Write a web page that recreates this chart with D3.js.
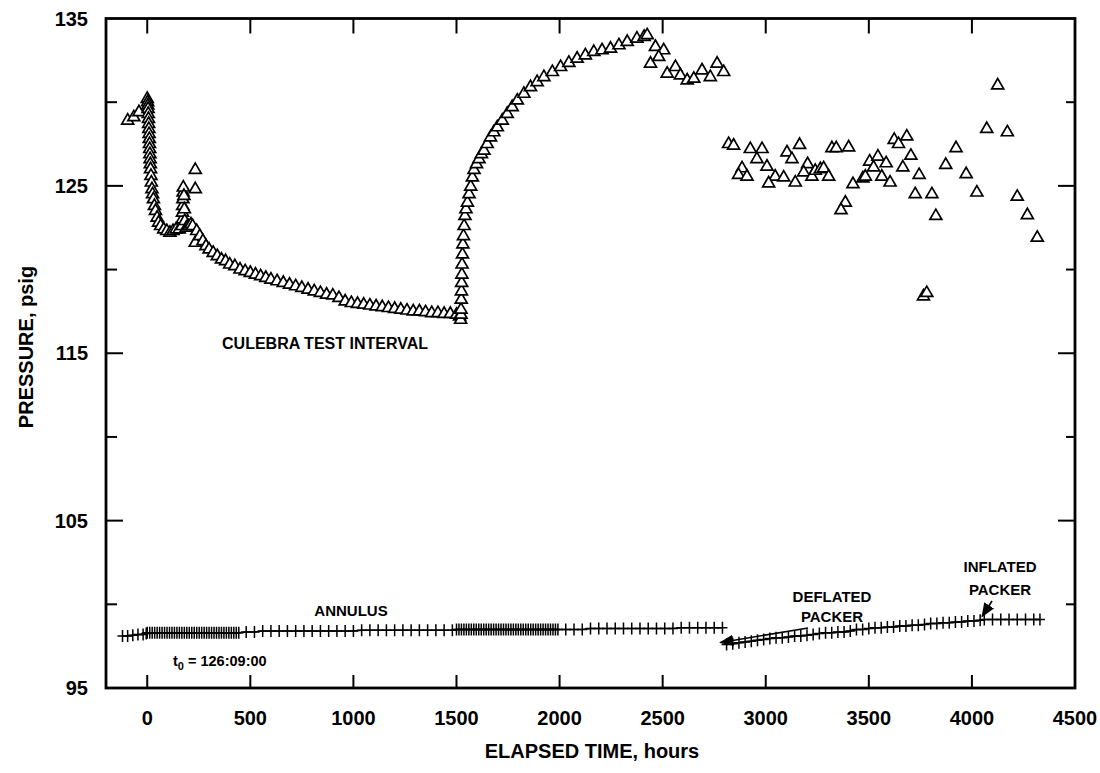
<!DOCTYPE html>
<html><head><meta charset="utf-8">
<script src="https://cdn.jsdelivr.net/npm/d3@7/dist/d3.min.js"></script>
<style>
body{margin:0;background:#fff;}
text{font-family:"Liberation Sans",Arial,Helvetica,sans-serif;font-weight:bold;fill:#000;}
</style></head>
<body><svg id="c" width="1100" height="773"></svg>
<script>
// ---- data ----
const xTicks = [0,500,1000,1500,2000,2500,3000,3500,4000,4500];
const yMajor = [95,105,115,125,135];
const yMinor = [100,110,120,130];
const xLabel = "ELAPSED TIME, hours";
const yLabel = "PRESSURE, psig";

// Culebra test interval (hours, psig)
const culebra = [
[-95,128.9],[-65,129.1],[-40,129.4],
[0,130.2],[2,130.0],[3,129.8],[4,129.6],[5,129.3],[6,129.0],[7,128.7],[8,128.4],[9,128.1],[10,127.8],[11,127.5],[12,127.2],[13,126.9],[14,126.6],[15,126.3],[16,126.0],[18,125.6],[20,125.2],[23,124.8],[26,124.5],[30,124.2],[35,123.8],[40,123.5],[48,123.1],[55,122.8],[65,122.6],[80,122.4],[95,122.3],[110,122.2],[125,122.3],[140,122.4],[155,122.4],
[168,122.6],[170,123.0],[171,123.4],[172,123.8],[173,124.2],[174,124.6],[175,124.9],[178,124.4],[180,123.6],[182,122.9],[190,122.5],[200,122.6],[212,122.7],[220,122.6],
[233,125.95],[233,124.8],[233,121.6],
[240,122.3],[255,122.0],[270,121.7],[285,121.4],[300,121.2],[320,121.0],[340,120.8],[360,120.6],[380,120.5],[400,120.3],[425,120.2],[450,120.0],[475,119.9],[500,119.8],[525,119.7],[550,119.6],[575,119.5],[600,119.4],[630,119.3],[660,119.2],[690,119.1],[720,119.0],[750,118.9],[780,118.8],[810,118.7],[840,118.6],[870,118.5],[900,118.45],[930,118.3],[960,118.1],[990,118.0],[1020,117.95],[1050,117.9],[1080,117.85],[1110,117.8],[1140,117.75],[1170,117.7],[1200,117.65],[1230,117.6],[1260,117.55],[1290,117.5],[1320,117.5],[1350,117.45],[1380,117.4],[1410,117.4],[1440,117.35],[1470,117.35],[1500,117.3],[1515,117.2],[1520,117.0],[1522,117.3],
[1522,117.6],[1523,118.2],[1524,118.7],[1525,119.2],[1526,119.7],[1527,120.3],[1529,120.9],[1531,121.5],[1534,122.0],[1537,122.6],[1541,123.2],[1546,123.6],[1553,124.0],[1561,124.5],[1569,124.95],[1577,125.5],[1585,125.95],[1597,126.3],[1609,126.6],[1621,126.9],[1633,127.1],[1649,127.5],[1665,127.9],[1681,128.2],[1698,128.5],[1722,128.9],[1746,129.3],[1770,129.7],[1795,130.1],[1827,130.5],[1859,130.9],[1891,131.2],[1924,131.5],[1965,131.8],[2005,132.1],[2045,132.35],[2085,132.6],[2125,132.8],[2166,133.0],[2206,133.1],[2247,133.2],[2288,133.4],[2328,133.6],[2375,133.8],[2410,133.9],[2425,134.0],
[2465,133.3],[2505,133.1],[2441,132.3],[2481,132.7],[2522,131.7],[2562,132.1],[2586,131.6],[2619,131.3],[2651,131.4],[2691,131.9],[2731,131.5],[2764,132.3],[2796,131.8],
[2820,127.5],[2844,127.4],[2925,127.2],[2982,127.2],[2957,126.6],[2885,126.05],[2868,125.65],[2909,125.55],[3006,126.15],[3046,125.55],[3014,125.15],
[3087,125.5],[3103,127.0],[3127,126.6],[3164,127.45],[3143,125.2],[3203,126.3],[3184,125.8],[3224,125.55],[3240,125.9],[3265,126.0],[3281,126.05],[3305,125.55],[3321,127.25],[3342,127.25],[3402,127.3],[3386,124.0],[3365,123.55],[3423,125.1],[3471,125.45],[3483,125.55],[3504,126.45],[3523,126.1],[3544,126.75],[3563,125.55],[3584,126.35],[3603,125.2],[3623,127.75],[3644,127.5],[3684,127.95],[3665,126.1],[3704,126.8],[3744,125.65],[3725,124.5],[3806,124.5],[3825,123.2],[3765,118.4],[3781,118.6],[3873,126.25],[3923,127.25],[3972,125.7],[4024,124.6],[4072,128.4],[4125,131.0],[4172,128.2],[4220,124.35],[4269,123.25],[4317,121.9]
];

// Annulus (hours, psig)
const annulus = [
[-120,98.1],[-95,98.1],[-70,98.15],[-45,98.2],[-20,98.2],[-5,98.25],
[0,98.3],[12,98.3],[24,98.3],[36,98.3],[48,98.3],[60,98.3],[72,98.3],[84,98.3],[96,98.3],[108,98.3],[120,98.3],[132,98.3],[144,98.3],[156,98.3],[168,98.3],[180,98.3],[192,98.3],[204,98.3],[216,98.3],[228,98.3],[240,98.3],[252,98.3],[264,98.3],[276,98.3],[288,98.3],[300,98.3],[312,98.3],[324,98.3],[336,98.3],[348,98.3],[360,98.3],[372,98.3],[384,98.3],[396,98.3],[408,98.3],[420,98.3],[432,98.3],[444,98.3],
[480,98.35],[520,98.35],[560,98.4],[600,98.4],[640,98.4],[680,98.4],[720,98.4],[760,98.4],[800,98.4],[840,98.4],[880,98.4],[920,98.4],[960,98.4],[1000,98.4],[1040,98.45],[1080,98.45],[1120,98.45],[1160,98.45],[1200,98.45],[1240,98.45],[1280,98.45],[1320,98.45],[1360,98.45],[1400,98.45],[1440,98.45],[1480,98.45],
[1500,98.5],[1512,98.5],[1524,98.5],[1536,98.5],[1548,98.5],[1560,98.5],[1572,98.5],[1584,98.5],[1596,98.5],[1608,98.5],[1620,98.5],[1632,98.5],[1644,98.5],[1656,98.5],[1668,98.5],[1680,98.5],[1692,98.5],[1704,98.5],[1716,98.5],[1728,98.5],[1740,98.5],[1752,98.5],[1764,98.5],[1776,98.5],[1788,98.5],[1800,98.5],[1812,98.5],[1824,98.5],[1836,98.5],[1848,98.5],[1860,98.5],[1872,98.5],[1884,98.5],[1896,98.5],[1908,98.5],[1920,98.5],[1932,98.5],[1944,98.5],[1956,98.5],[1968,98.5],[1980,98.5],[1992,98.5],
[2030,98.5],[2070,98.5],[2110,98.5],[2150,98.55],[2190,98.55],[2230,98.55],[2270,98.55],[2310,98.55],[2350,98.55],[2390,98.55],[2430,98.55],[2470,98.55],[2510,98.55],[2550,98.55],[2590,98.6],[2630,98.6],[2670,98.6],[2710,98.6],[2750,98.6],[2790,98.6],
[2810,97.6],[2840,97.65],[2870,97.7],[2900,97.75],[2930,97.8],[2960,97.85],[2990,97.9],[3020,97.95],[3050,98.0],[3080,98.0],[3110,98.05],[3140,98.1],[3170,98.1],[3200,98.15],[3230,98.2],[3260,98.25],[3290,98.3],[3320,98.3],[3350,98.35],[3380,98.35],[3410,98.4],[3440,98.5],[3470,98.5],[3500,98.55],[3530,98.6],[3560,98.6],[3590,98.65],[3620,98.65],[3650,98.7],[3680,98.7],[3710,98.75],[3740,98.75],[3770,98.8],[3800,98.85],[3830,98.85],[3860,98.9],[3890,98.9],[3920,98.95],[3950,98.95],[3980,99.0],[4010,99.0],[4040,99.05],
[4060,99.1],[4100,99.1],[4140,99.1],[4180,99.1],[4220,99.1],[4260,99.1],[4300,99.1],[4330,99.1]
];

// ---- layout ----
const svg = d3.select("#c");
const L=106, R=1075, T=18.5, B=688;
const x = d3.scaleLinear().domain([-200,4500]).range([L,R]);
const y = d3.scaleLinear().domain([95,135]).range([B,T]);
const g = svg.append("g");

// frame
g.append("rect").attr("x",L).attr("y",T).attr("width",R-L).attr("height",B-T)
 .attr("fill","none").attr("stroke","#000").attr("stroke-width",2.8);

// x ticks (inside, top & bottom)
xTicks.filter(d=>d<4500).forEach(d=>{
  g.append("line").attr("x1",x(d)).attr("x2",x(d)).attr("y1",B).attr("y2",B-13).attr("stroke","#000").attr("stroke-width",2);
  g.append("line").attr("x1",x(d)).attr("x2",x(d)).attr("y1",T).attr("y2",T+15).attr("stroke","#000").attr("stroke-width",2);
});
xTicks.forEach(d=>{
  g.append("text").attr("x",x(d)).attr("y",725).attr("text-anchor","middle").attr("font-size",20).text(d3.format("d")(d));
});
// y ticks
yMajor.forEach(d=>{
  if(d>95 && d<135){
    g.append("line").attr("x1",L).attr("x2",L+17).attr("y1",y(d)).attr("y2",y(d)).attr("stroke","#000").attr("stroke-width",2);
    g.append("line").attr("x1",R).attr("x2",R-17).attr("y1",y(d)).attr("y2",y(d)).attr("stroke","#000").attr("stroke-width",2);
  }
  g.append("text").attr("x",88).attr("y",y(d)+7).attr("text-anchor","end").attr("font-size",20).text(d);
});
yMinor.forEach(d=>{
  g.append("line").attr("x1",L).attr("x2",L+11).attr("y1",y(d)).attr("y2",y(d)).attr("stroke","#000").attr("stroke-width",2);
  g.append("line").attr("x1",R).attr("x2",R-9).attr("y1",y(d)).attr("y2",y(d)).attr("stroke","#000").attr("stroke-width",2);
});

// axis titles
g.append("text").attr("x",592).attr("y",758).attr("text-anchor","middle").attr("font-size",20).text(xLabel);
g.append("text").attr("transform","translate(33,347) rotate(-90)").attr("text-anchor","middle").attr("font-size",20).text(yLabel);

// annulus
const ann = g.append("g");
ann.append("path").datum(annulus.filter(d=>d[0]<2800))
  .attr("d",d3.line().x(d=>x(d[0])).y(d=>y(d[1])))
  .attr("fill","none").attr("stroke","#000").attr("stroke-width",1.5);
ann.append("path").datum(annulus.filter(d=>d[0]>2800))
  .attr("d",d3.line().x(d=>x(d[0])).y(d=>y(d[1])))
  .attr("fill","none").attr("stroke","#000").attr("stroke-width",1.5);
ann.selectAll("path.p").data(annulus).join("path").attr("class","p")
  .attr("d",d=>{const cx=x(d[0]),cy=y(d[1]);return `M${cx-5},${cy}H${cx+5}M${cx},${cy-6}V${cy+6}`;})
  .attr("stroke","#000").attr("stroke-width",1.5).attr("fill","none");

// culebra triangles
const tri = d3.symbol().type(d3.symbolTriangle).size(62);
g.append("g").selectAll("path").data(culebra).join("path")
  .attr("transform",d=>`translate(${x(d[0])},${y(d[1])})`)
  .attr("d",tri).attr("fill","#fff").attr("stroke","#000").attr("stroke-width",1.7);

// annotations
g.append("text").attr("x",325).attr("y",349).attr("text-anchor","middle").attr("font-size",16).text("CULEBRA TEST INTERVAL");
g.append("text").attr("x",351).attr("y",616).attr("text-anchor","middle").attr("font-size",15).text("ANNULUS");
const t0 = g.append("text").attr("x",173).attr("y",666).attr("font-size",14.5);
t0.append("tspan").text("t");
t0.append("tspan").attr("font-size",11).attr("dy",4).text("0");
t0.append("tspan").attr("dy",-4).text(" = 126:09:00");

g.append("text").attr("x",832).attr("y",602).attr("text-anchor","middle").attr("font-size",15).text("DEFLATED");
g.append("text").attr("x",832).attr("y",622).attr("text-anchor","middle").attr("font-size",15).text("PACKER");
g.append("text").attr("x",1000).attr("y",572).attr("text-anchor","middle").attr("font-size",15).text("INFLATED");
g.append("text").attr("x",1000).attr("y",595).attr("text-anchor","middle").attr("font-size",15).text("PACKER");

// arrows
const defs = svg.append("defs");
defs.append("marker").attr("id","ah").attr("viewBox","0 0 10 10").attr("refX",9).attr("refY",5)
  .attr("markerWidth",9).attr("markerHeight",9).attr("orient","auto")
  .append("path").attr("d","M0,1L10,5L0,9Z").attr("fill","#000");
g.append("line").attr("x1",808).attr("y1",628).attr("x2",x(2800)-4).attr("y2",y(97.6)-2)
  .attr("stroke","#000").attr("stroke-width",1.6).attr("marker-end","url(#ah)");
g.append("line").attr("x1",992).attr("y1",601).attr("x2",x(4040)+2).attr("y2",y(99.1)-3)
  .attr("stroke","#000").attr("stroke-width",1.6).attr("marker-end","url(#ah)");
</script></body></html>
